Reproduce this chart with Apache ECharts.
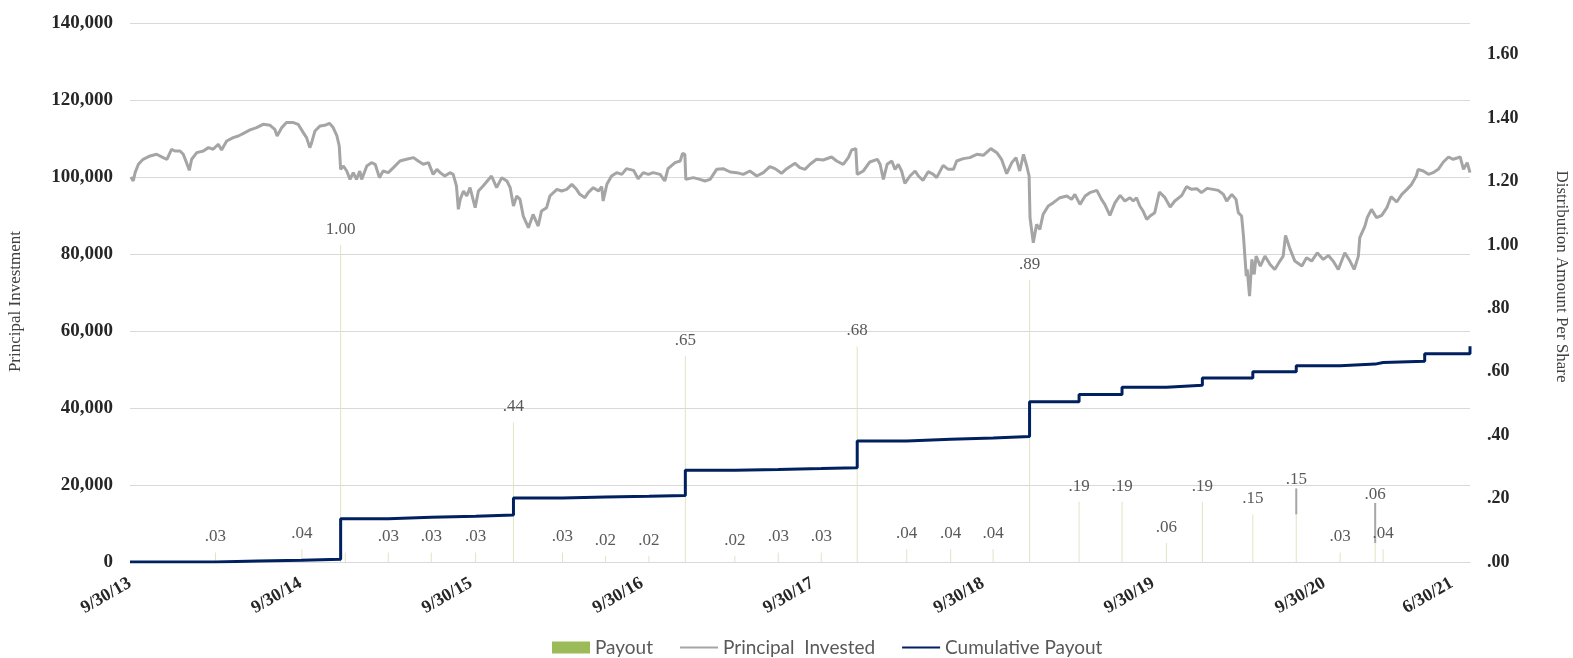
<!DOCTYPE html>
<html>
<head>
<meta charset="utf-8">
<script src="https://cdn.jsdelivr.net/npm/echarts@6/dist/echarts.min.js"></script>
<style>
  html, body { margin: 0; padding: 0; background: #ffffff; }
  #chart { width: 1573px; height: 658px; }
</style>
</head>
<body>
<div id="chart"></div>
<script>
// X positions are days after 9/30/13
const xTickDays = [0, 365, 730, 1096, 1461, 1826, 2191, 2557, 2830];
const xTickLabels = ['9/30/13', '9/30/14', '9/30/15', '9/30/16', '9/30/17', '9/30/18', '9/30/19', '9/30/20', '6/30/21'];

const seriesNames = ['Payout', 'Principal  Invested', 'Cumulative Payout'];

const payoutDays = [183, 368, 451, 461, 553, 645, 740, 821, 926, 1018, 1111, 1189, 1295, 1388, 1480, 1557, 1663, 1757, 1848, 1926, 2032, 2124, 2219, 2296, 2404, 2497, 2591, 2666, 2683];
const payoutValues = [0.03, 0.04, 1.00, 0.03, 0.03, 0.03, 0.03, 0.44, 0.03, 0.02, 0.02, 0.65, 0.02, 0.03, 0.03, 0.68, 0.04, 0.04, 0.04, 0.89, 0.19, 0.19, 0.06, 0.19, 0.15, 0.15, 0.03, 0.06, 0.04];
const payoutLabels = ['.03', '.04', '1.00', '', '.03', '.03', '.03', '.44', '.03', '.02', '.02', '.65', '.02', '.03', '.03', '.68', '.04', '.04', '.04', '.89', '.19', '.19', '.06', '.19', '.15', '.15', '.03', '.06', '.04'];

const cumDays = [0, 183, 274, 368, 451, 553, 645, 740, 821, 926, 1018, 1111, 1189, 1295, 1388, 1480, 1557, 1663, 1757, 1848, 1926, 2032, 2124, 2219, 2296, 2404, 2497, 2591, 2666, 2683, 2772, 2858, 2869];
const cumValues = [0, 250, 450, 700, 11250, 11600, 11860, 12200, 16640, 16900, 17060, 17300, 23800, 24000, 24260, 24500, 31460, 31900, 32200, 32600, 41600, 43500, 45400, 45900, 47800, 49400, 50960, 51400, 51800, 52150, 54100, 54100, 56050];

const principalDays = [
  2, 7, 11, 18, 28, 43, 57, 71, 79, 89, 96, 107, 114, 121, 127, 132, 143, 157, 168, 178, 189, 196, 207, 221, 232, 243, 257, 271, 285, 300,
  310, 315, 325, 335, 350, 360, 371, 378, 385, 389, 396, 407, 417, 427, 435, 443, 448, 451, 457, 464, 471, 478, 485, 492, 496, 507, 517, 525, 534, 542,
  553, 564, 578, 592, 607, 617, 628, 639, 649, 657, 664, 674, 685, 692, 699, 703,
  707, 714, 721, 728, 739, 746, 756, 774, 785, 796, 807, 814, 821, 828, 835, 842, 853, 863, 874, 881, 892, 899, 914, 924, 935, 946, 956, 963, 974, 981,
  992, 1003, 1010, 1013, 1021, 1031, 1042, 1053, 1063, 1078, 1088, 1099, 1110, 1120, 1135, 1145, 1152, 1167, 1178, 1183, 1188, 1190, 1206, 1220, 1231, 1242, 1256, 1270, 1285, 1299,
  1313, 1327, 1342, 1356, 1370, 1381, 1395, 1406, 1424,
  1434, 1445, 1456, 1470, 1484, 1502, 1513, 1527, 1538, 1545, 1554, 1557, 1570, 1584, 1600, 1606, 1613, 1621, 1631, 1638, 1645, 1652, 1659, 1670, 1681, 1688, 1698, 1709, 1720, 1727,
  1741, 1752, 1763, 1770, 1784, 1798, 1813, 1827, 1843, 1856, 1866, 1877, 1888, 1897, 1905, 1913, 1920, 1925, 1927, 1934, 1941, 1948, 1955, 1966, 1977, 1991, 2006, 2016, 2023, 2034,
  2045, 2055, 2070, 2080, 2087, 2098, 2109, 2120, 2130,
  2141, 2148, 2155, 2162, 2169, 2177, 2184, 2194, 2204, 2216, 2227, 2237, 2252, 2262, 2273, 2284, 2294, 2306, 2319, 2330, 2341, 2348, 2359, 2368, 2373, 2380, 2384, 2387, 2390, 2392,
  2397, 2402, 2407, 2411, 2420, 2430, 2441, 2451, 2462, 2469, 2474, 2484, 2494, 2509, 2519, 2530, 2542, 2555, 2566, 2576, 2587, 2601, 2612, 2621, 2630, 2633, 2644, 2649, 2658, 2669,
  2680, 2691, 2700, 2712, 2723, 2734, 2744, 2754, 2758, 2769, 2780, 2790, 2801, 2812, 2823, 2833, 2848, 2855, 2863, 2869
];
const principalValues = [
  100000, 98960, 101130, 103300, 104600, 105460, 105900, 105030, 104600, 107200, 106760, 106760, 105900, 103730, 101730, 104600, 106330, 106760, 107630, 107200, 108500, 107020, 109360, 110230, 110660, 111350, 112220, 112830, 113690, 113430,
  112390, 110660, 112830, 114130, 114130, 113690, 111530, 110230, 107630, 108930, 111960, 113260, 113430, 113950, 112830, 110660, 108060, 101990, 102860, 101560, 99390, 101130, 99390, 101560, 99390, 102860, 103730, 103300, 99830, 101560,
  101130, 102430, 104160, 104600, 105030, 104160, 103300, 103730, 100690, 102000, 101130, 100260, 101130, 100690, 97660, 91600,
  94190, 96360, 95060, 97230, 92030, 96360, 97660, 100260, 97230, 99830, 98960, 97230, 92460, 95060, 94190, 89860, 86830, 90290, 87260, 91160, 92030, 95060, 96800, 96360, 96800, 98090, 96800, 95500, 94630, 95930,
  97230, 96360, 97490, 93760, 98090, 100260, 101130, 100690, 102170, 101730, 99570, 101130, 100690, 101130, 100690, 98960, 102170, 103730, 104160, 106150, 105890, 99390, 99830, 99390, 98960, 99390, 101990, 102170, 101300, 101130,
  100690, 101560, 100260, 101130, 102690, 102170, 100950, 102170, 103560,
  102430, 101990, 103300, 104600, 104420, 105200, 104160, 103300, 105030, 107020, 107370, 100690, 101560, 103900, 104600, 103300, 99390, 103300, 104160, 101990, 103300, 101560, 98350, 100260, 101560, 100260, 99130, 101390, 100690, 99830,
  103030, 101990, 101990, 104160, 104770, 105030, 105890, 105630, 107370, 106330, 104600, 100870, 103730, 105030, 101560, 105890, 102860, 100260, 89430, 82930, 87690, 86390, 90290, 92460, 93330, 94630, 95060, 94190, 95490, 92890,
  95060, 95930, 96530, 94190, 92890, 90030, 93330, 95230, 93760,
  94630, 93760, 94630, 92460, 91160, 88990, 89860, 90730, 96100, 94630, 92200, 93760, 95230, 97490, 96790, 96970, 95930, 97050, 96790, 96530, 95490, 93760, 95490, 94190, 90730, 89860, 84660, 79460, 74260, 75990,
  69060, 78590, 74690, 79460, 76860, 79460, 77290, 75990, 78160, 79460, 84830, 81190, 78160, 76860, 79030, 78160, 80330, 78590, 79630, 78160, 75990, 80330, 78160, 75990, 79460, 84230, 87260, 89430, 91590, 89430,
  90030, 92030, 94890, 93500, 95490, 96790, 98090, 100260, 101990, 101560, 100690, 101130, 101990, 103900, 105200, 104600, 105200, 101990, 103730, 101130
];

// label shifts (style only): moved data labels with leader lines
const payoutLabelShift = { 25: -19, 27: -33 };

const SERIF = '"Liberation Serif", "DejaVu Serif", serif';
const SANS = 'Lato, "Liberation Sans", sans-serif';

function thousands(v) {
  return String(Math.round(v)).replace(/\B(?=(\d{3})+(?!\d))/g, ',');
}
function shareFmt(v) {
  const s = (Math.round(v * 100) / 100).toFixed(2);
  return v < 1 ? s.slice(1) : s;
}

const payoutData = payoutDays.map((d, i) => {
  const item = { value: [d, payoutValues[i]] };
  if (payoutLabelShift[i] !== undefined) {
    item.labelLine = { show: true, lineStyle: { color: '#a5a5a5', width: 2 } };
  }
  return item;
});
const principalData = principalDays.map((d, i) => [d, principalValues[i]]);
const cumData = cumDays.map((d, i) => [d, cumValues[i]]);

const hiddenSymbol = { color: 'rgba(0,0,0,0)', borderColor: 'rgba(0,0,0,0)', borderWidth: 0, opacity: 0 };

const chart = echarts.init(document.getElementById('chart'), null, { renderer: 'canvas' });
chart.setOption({
  animation: false,
  backgroundColor: '#ffffff',
  grid: { left: 130, right: 103, top: 23, bottom: 96, containLabel: false, outerBoundsMode: 'none' },
  legend: {
    left: 547,
    top: 633,
    itemWidth: 38,
    itemHeight: 12,
    itemGap: 26,
    textStyle: { fontFamily: SANS, fontSize: 19, color: '#595959' },
    data: [
      { name: seriesNames[0], icon: 'rect', itemStyle: { color: '#9bbb59' } },
      { name: seriesNames[1], itemStyle: hiddenSymbol },
      { name: seriesNames[2], itemStyle: hiddenSymbol }
    ]
  },
  xAxis: {
    type: 'value',
    min: 0,
    max: 2869,
    splitLine: { show: false },
    axisLine: { show: true, lineStyle: { color: '#d9d9d9', width: 1 } },
    axisTick: { show: false },
    axisLabel: {
      customValues: xTickDays,
      formatter: function (v) {
        const i = xTickDays.indexOf(v);
        return i >= 0 ? xTickLabels[i] : '';
      },
      rotate: 30,
      margin: 20,
      fontFamily: SERIF,
      fontWeight: 'bold',
      fontSize: 18,
      color: '#262626'
    }
  },
  yAxis: [
    {
      type: 'value',
      position: 'left',
      min: 0,
      max: 140000,
      interval: 20000,
      name: 'Principal Investment',
      nameLocation: 'middle',
      nameGap: 106,
      nameTextStyle: { fontFamily: SERIF, fontSize: 17, color: '#404040', padding: [0, 18, 0, 0] },
      axisLine: { show: false },
      axisTick: { show: false },
      splitLine: { show: true, lineStyle: { color: '#d9d9d9', width: 1 } },
      axisLabel: {
        formatter: thousands,
        margin: 17,
        fontFamily: SERIF,
        fontWeight: 'bold',
        fontSize: 19,
        color: '#262626'
      }
    },
    {
      type: 'value',
      position: 'right',
      min: 0,
      max: 1.7,
      interval: 0.2,
      name: 'Distribution Amount Per Share',
      nameLocation: 'middle',
      nameRotate: -90,
      nameGap: 83,
      nameTextStyle: { fontFamily: SERIF, fontSize: 17, color: '#404040', padding: [0, 32, 0, 0] },
      axisLine: { show: false },
      axisTick: { show: false },
      splitLine: { show: false },
      axisLabel: {
        formatter: shareFmt,
        showMaxLabel: false,
        margin: 17,
        fontFamily: SERIF,
        fontWeight: 'bold',
        fontSize: 18,
        color: '#262626'
      }
    }
  ],
  series: [
    {
      name: seriesNames[0],
      type: 'bar',
      yAxisIndex: 1,
      barWidth: 1,
      itemStyle: { color: '#dfe5c4' },
      data: payoutData,
      z: 1,
      label: {
        show: true,
        position: 'top',
        distance: 7,
        formatter: function (p) { return payoutLabels[p.dataIndex]; },
        fontFamily: SERIF,
        fontSize: 17,
        color: '#595959'
      },
      labelLine: { show: false },
      labelLayout: function (params) {
        const dy = payoutLabelShift[params.dataIndex];
        return dy !== undefined ? { dy: dy } : {};
      }
    },
    {
      name: seriesNames[1],
      type: 'line',
      yAxisIndex: 0,
      symbol: 'none',
      lineStyle: { color: '#a5a5a5', width: 3 },
      itemStyle: { color: '#a5a5a5' },
      data: principalData,
      z: 3
    },
    {
      name: seriesNames[2],
      type: 'line',
      yAxisIndex: 0,
      step: 'end',
      symbol: 'none',
      lineStyle: { color: '#002060', width: 3 },
      itemStyle: { color: '#002060' },
      data: cumData,
      z: 4
    }
  ]
});
</script>
</body>
</html>
